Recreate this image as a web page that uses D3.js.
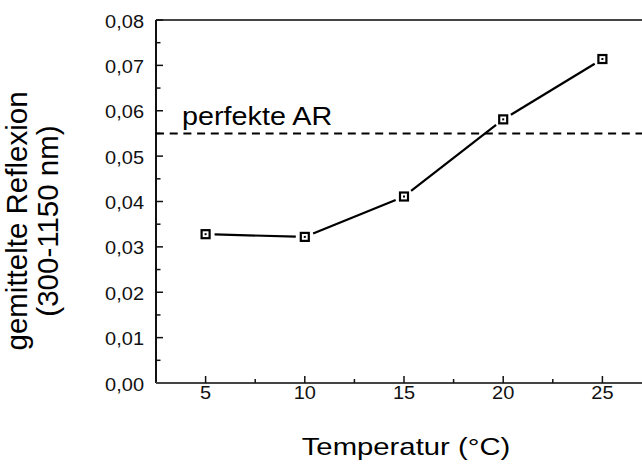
<!DOCTYPE html>
<html>
<head>
<meta charset="utf-8">
<script src="https://cdn.jsdelivr.net/npm/d3@7"></script>
<style>
  body { margin: 0; background: #fff; }
  svg { display: block; font-family: "Liberation Sans", Arial, sans-serif; }
</style>
</head>
<body>
<svg id="chart" width="642" height="466"></svg>
<script>
// Daten
const temperatures = [5, 10, 15, 20, 25];
const reflexion = [0.0328, 0.0322, 0.0411, 0.0581, 0.0714];
const perfektAR = 0.055;
const xTicks = [5, 10, 15, 20, 25];
const yTicks = [0, 0.01, 0.02, 0.03, 0.04, 0.05, 0.06, 0.07, 0.08];

const svg = d3.select('#chart');
const m = { left: 156, top: 20, right: 652, bottom: 383 };

const x = d3.scaleLinear().domain([2.5, 27.5]).range([m.left, m.right]);
const y = d3.scaleLinear().domain([0, 0.08]).range([m.bottom, m.top]);
const fmt = d => d3.format('.2f')(d).replace('.', ',');
const axisColor = '#444';

// Rahmen oben
svg.append('line')
  .attr('x1', m.left).attr('x2', m.right)
  .attr('y1', m.top).attr('y2', m.top)
  .attr('stroke', axisColor).attr('stroke-width', 2);

// Y-Achse (Ticks nach innen)
const yAxis = svg.append('g').attr('transform', `translate(${m.left},0)`);
yAxis.append('line')
  .attr('x1', 0).attr('x2', 0).attr('y1', m.top).attr('y2', m.bottom)
  .attr('stroke', '#111').attr('stroke-width', 2);
yAxis.selectAll('line.major')
  .data(yTicks).join('line')
  .attr('class', 'major')
  .attr('x1', 0).attr('x2', 7)
  .attr('y1', d => y(d)).attr('y2', d => y(d))
  .attr('stroke', '#111').attr('stroke-width', 1.5);
yAxis.selectAll('line.minor')
  .data(yTicks.slice(0, -1).map(d => d + 0.005)).join('line')
  .attr('class', 'minor')
  .attr('x1', 0).attr('x2', 4.5)
  .attr('y1', d => y(d)).attr('y2', d => y(d))
  .attr('stroke', '#111').attr('stroke-width', 1.5);
yAxis.selectAll('text')
  .data(yTicks).join('text')
  .attr('transform', d => `translate(-12,${y(d) + 7.5}) scale(1.08,1)`)
  .attr('text-anchor', 'end')
  .attr('font-size', 18.5)
  .attr('fill', '#111')
  .text(fmt);

// X-Achse
const xAxis = svg.append('g').attr('transform', `translate(0,${m.bottom})`);
xAxis.append('line')
  .attr('x1', m.left).attr('x2', m.right).attr('y1', 0).attr('y2', 0)
  .attr('stroke', axisColor).attr('stroke-width', 2);
xAxis.selectAll('line.major')
  .data(xTicks).join('line')
  .attr('class', 'major')
  .attr('x1', d => x(d)).attr('x2', d => x(d))
  .attr('y1', 0).attr('y2', -7)
  .attr('stroke', '#111').attr('stroke-width', 1.5);
xAxis.selectAll('line.minor')
  .data(xTicks.map(d => d + 2.5)).join('line')
  .attr('class', 'minor')
  .attr('x1', d => x(d)).attr('x2', d => x(d))
  .attr('y1', 0).attr('y2', -4)
  .attr('stroke', '#111').attr('stroke-width', 1.5);
xAxis.selectAll('text')
  .data(xTicks).join('text')
  .attr('transform', d => `translate(${x(d)},16) scale(1.08,1)`)
  .attr('text-anchor', 'middle')
  .attr('font-size', 18.5)
  .attr('fill', '#111')
  .text(d => d);

// Perfekte AR (gestrichelt)
svg.append('line')
  .attr('x1', m.left).attr('x2', m.right)
  .attr('y1', y(perfektAR)).attr('y2', y(perfektAR))
  .attr('stroke', '#000').attr('stroke-width', 2)
  .attr('stroke-dasharray', '8,5.7');
svg.append('text')
  .attr('transform', `translate(182,${y(perfektAR) - 8}) scale(1.15,1)`)
  .attr('font-size', 25)
  .attr('fill', '#000')
  .text('perfekte AR');

// Messkurve: Liniensegmente mit Lücke vor den Markern
const pts = temperatures.map((t, i) => ({ x: x(t), y: y(reflexion[i]) }));
const gap = 9;
const segs = d3.pairs(pts).map(([a, b]) => {
  const dx = b.x - a.x, dy = b.y - a.y, len = Math.hypot(dx, dy);
  const ux = dx / len, uy = dy / len;
  return { x1: a.x + ux * gap, y1: a.y + uy * gap, x2: b.x - ux * gap, y2: b.y - uy * gap };
});
svg.selectAll('line.seg')
  .data(segs).join('line')
  .attr('class', 'seg')
  .attr('x1', d => d.x1).attr('y1', d => d.y1)
  .attr('x2', d => d.x2).attr('y2', d => d.y2)
  .attr('stroke', '#000').attr('stroke-width', 2.2);

svg.selectAll('rect.marker')
  .data(pts).join('rect')
  .attr('class', 'marker')
  .attr('x', d => d.x - 4).attr('y', d => d.y - 4)
  .attr('width', 8).attr('height', 8)
  .attr('fill', '#fff').attr('stroke', '#000').attr('stroke-width', 2.2);
svg.selectAll('rect.dot')
  .data(pts).join('rect')
  .attr('class', 'dot')
  .attr('x', d => d.x - 1).attr('y', d => d.y - 1)
  .attr('width', 2).attr('height', 2)
  .attr('fill', '#000');

// Achsentitel
svg.append('text')
  .attr('transform', 'translate(406,455) scale(1.22,1)')
  .attr('text-anchor', 'middle')
  .attr('font-size', 24)
  .attr('fill', '#000')
  .text('Temperatur (°C)');

const yt = svg.append('text')
  .attr('transform', 'translate(27,221) rotate(-90)')
  .attr('text-anchor', 'middle')
  .attr('font-size', 29.5)
  .attr('fill', '#000');
yt.append('tspan').attr('x', 0).attr('dy', 0).text('gemittelte Reflexion');
yt.append('tspan').attr('x', 0).attr('dy', 31).text('(300-1150 nm)');
</script>
</body>
</html>
